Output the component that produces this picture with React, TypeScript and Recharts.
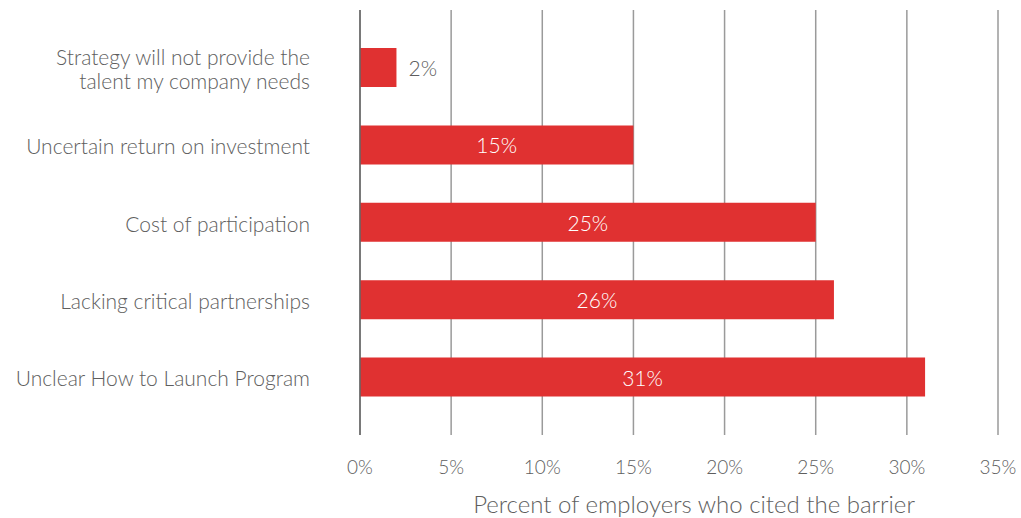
import React from "react";
import { BarChart, Bar, XAxis, YAxis, CartesianGrid, LabelList, Label } from "recharts";

const categories = [
  "Strategy will not provide the|talent my company needs",
  "Uncertain return on investment",
  "Cost of participation",
  "Lacking critical partnerships",
  "Unclear How to Launch Program",
];
const values = [2, 15, 25, 26, 31];
const xTicks = [0, 5, 10, 15, 20, 25, 30, 35];

const data = categories.map((c, i) => ({ name: c, value: values[i] }));

const FONT = "Lato, 'Open Sans', sans-serif";
const GRAY = "#5e5e5e";
const RED = "#e03131";

const YTick = (props: any) => {
  const { x, y, payload } = props;
  const lines = String(payload.value).split("|");
  const lh = 24;
  const startY = y - ((lines.length - 1) * lh) / 2;
  const tx = x - 42;
  return (
    <text x={tx} y={startY} textAnchor="end" fill={GRAY} fontSize={21} fontWeight={300} fontFamily={FONT} dominantBaseline="central">
      {lines.map((l, i) => (
        <tspan key={i} x={tx} y={startY + i * lh} dominantBaseline="central">
          {l}
        </tspan>
      ))}
    </text>
  );
};

const XTick = (props: any) => {
  const { x, payload } = props;
  return (
    <text x={x} y={466} textAnchor="middle" fill={GRAY} fontSize={19} fontWeight={300} fontFamily={FONT} dominantBaseline="central">
      {payload.value}%
    </text>
  );
};

const BarLabel = (props: any) => {
  const { x, y, width, height, value } = props;
  const cy = y + height / 2;
  if (value < 5) {
    return (
      <text x={x + width + 12} y={cy} textAnchor="start" fill={GRAY} fontSize={21} fontWeight={300} fontFamily={FONT} dominantBaseline="central">
        {value}%
      </text>
    );
  }
  return (
    <text x={x + width / 2} y={cy} textAnchor="middle" fill="#ffffff" fontSize={21} fontWeight={300} fontFamily={FONT} dominantBaseline="central">
      {value}%
    </text>
  );
};

export default function App() {
  return (
    <div style={{ position: "absolute", left: 0, top: 0, background: "#fff" }}>
      <BarChart
        width={1021}
        height={518}
        data={data}
        layout="vertical"
        margin={{ top: 10, right: 23, bottom: 0, left: 0 }}
      >
        <CartesianGrid vertical={true} horizontal={false} stroke="#9a9a9a" strokeWidth={1.5} />
        <XAxis
          type="number"
          domain={[0, 35]}
          ticks={xTicks}
          axisLine={false}
          tickLine={false}
          tick={<XTick />}
          height={83}
          interval={0}
        >
          <Label
            value="Percent of employers who cited the barrier"
            position="insideBottom"
            offset={5}
            dx={15}
            fill={GRAY}
            fontSize={24}
            fontWeight={300}
            fontFamily={FONT}
          />
        </XAxis>
        <YAxis
          type="category"
          dataKey="name"
          width={360}
          axisLine={{ stroke: "#666666", strokeWidth: 1.5 }}
          tickLine={false}
          tick={<YTick />}
          padding={{ top: 19, bottom: 19 }}
          interval={0}
        />
        <Bar dataKey="value" fill={RED} isAnimationActive={false} barSize={39}>
          <LabelList dataKey="value" content={<BarLabel />} />
        </Bar>
      </BarChart>
    </div>
  );
}
